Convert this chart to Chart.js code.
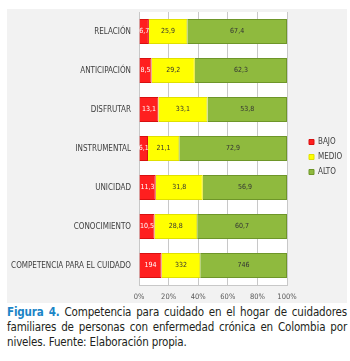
<!DOCTYPE html>
<html>
<head>
<meta charset="utf-8">
<script src="https://cdn.jsdelivr.net/npm/chart.js@4"></script>
<style>
    body { margin: 0; background: #fff; width: 350px; height: 361px; overflow: hidden; }
    #panel { position: absolute; left: 7px; top: 9px; width: 340px; height: 294px; background: #f2f2f2; }
    #panel canvas { display: block; }
    #caption {
        position: absolute; left: 7px; top: 305px; width: 340px;
        font-family: "DejaVu Sans Condensed", "Liberation Sans", sans-serif;
        font-size: 11.5px; letter-spacing: -0.15px; line-height: 15px; color: #231f20; text-align: justify;
    }
    #caption b { color: #1a84c6; }
</style>
</head>
<body>
<div id="panel"><canvas id="chart" width="340" height="294"></canvas></div>
<div id="caption"><b>Figura 4.</b> Competencia para cuidado en el hogar de cuidadores familiares de personas con enfermedad crónica en Colombia por niveles. Fuente: Elaboración propia.</div>
<script>
// Categorías y valores
const categories = ['RELACIÓN', 'ANTICIPACIÓN', 'DISFRUTAR', 'INSTRUMENTAL', 'UNICIDAD', 'CONOCIMIENTO', 'COMPETENCIA PARA EL CUIDADO'];
const bajo = [6.7, 8.5, 13.1, 6.1, 11.3, 10.5, 194];
const medio = [25.9, 29.2, 33.1, 21.1, 31.8, 28.8, 332];
const alto = [67.4, 62.3, 53.8, 72.9, 56.9, 60.7, 746];
const xTicks = [0, 20, 40, 60, 80, 100];

// Barras al 100%: cada serie como porcentaje del total de su categoría
const totals = categories.map((c, i) => bajo[i] + medio[i] + alto[i]);
const pct = arr => arr.map((v, i) => v / totals[i] * 100);

// Texto de las etiquetas con coma decimal
const fmt = v => String(v).replace('.', ',');

const labelFont = '"DejaVu Sans Condensed", "DejaVu Sans", sans-serif';

// Fondo blanco del área de trazado
const plotBg = {
    id: 'plotBg',
    beforeDraw(chart) {
        const a = chart.chartArea;
        const ctx = chart.ctx;
        ctx.save();
        ctx.fillStyle = '#ffffff';
        ctx.fillRect(a.left, a.top, a.right - a.left, a.bottom - a.top);
        ctx.restore();
    }
};

// Ancho fijo de la leyenda y desplazamiento a la derecha
const legendBox = {
    id: 'legendBox',
    beforeUpdate(chart) {
        const lg = chart.legend;
        if (lg && !lg._fixed) {
            const fit = lg.fit.bind(lg);
            lg.fit = function () { fit(); this.width = 60; };
            lg._fixed = true;
        }
    },
    afterLayout(chart) {
        if (chart.legend) chart.legend.left += 15;
    }
};

// Valores escritos sobre cada segmento
const barLabels = {
    id: 'barLabels',
    afterDatasetsDraw(chart) {
        const ctx = chart.ctx;
        ctx.save();
        ctx.font = '7px ' + labelFont;
        ctx.textAlign = 'center';
        ctx.textBaseline = 'middle';
        chart.data.datasets.forEach((ds, di) => {
            chart.getDatasetMeta(di).data.forEach((bar, i) => {
                const cx = (bar.x + bar.base) / 2;
                ctx.fillStyle = ds.labelColor;
                ctx.fillText(fmt(ds.raw[i]), cx, bar.y);
            });
        });
        ctx.restore();
    }
};

const ctx = document.getElementById('chart').getContext('2d');
new Chart(ctx, {
    type: 'bar',
    data: {
        labels: categories,
        datasets: [
            { label: 'BAJO', data: pct(bajo), raw: bajo, backgroundColor: '#ff1f1f', borderColor: '#d81010', borderWidth: 1, labelColor: '#ffffff' },
            { label: 'MEDIO', data: pct(medio), raw: medio, backgroundColor: '#ffff00', borderColor: '#e0e000', borderWidth: 1, labelColor: '#333333' },
            { label: 'ALTO', data: pct(alto), raw: alto, backgroundColor: '#8fba3e', borderColor: '#6e9629', borderWidth: 1, labelColor: '#333333' }
        ]
    },
    options: {
        indexAxis: 'y',
        responsive: false,
        animation: false,
        categoryPercentage: 1,
        barPercentage: 0.64,
        layout: { padding: { top: 3, right: 0, bottom: 1, left: 0 } },
        scales: {
            x: {
                stacked: true,
                min: 0,
                max: 100,
                afterBuildTicks: axis => { axis.ticks = xTicks.map(v => ({ value: v })); },
                afterFit: axis => { axis.height = 17; },
                ticks: {
                    callback: v => v + '%',
                    color: '#595959',
                    font: { size: 7.5, family: labelFont },
                    padding: 8
                },
                grid: { color: '#c8c8c8', drawTicks: false },
                border: { color: '#c8c8c8' }
            },
            y: {
                stacked: true,
                afterFit: axis => {
                    axis.width = 132;
                    axis.paddingTop = 0;
                    axis.paddingBottom = 0;
                },
                ticks: {
                    color: '#404040',
                    font: { size: 8, family: labelFont },
                    padding: 8
                },
                grid: { display: false, drawTicks: false },
                border: { display: false }
            }
        },
        plugins: {
            legend: {
                position: 'right',
                align: 'center',
                labels: {
                    boxWidth: 5,
                    boxHeight: 5,
                    padding: 7,
                    color: '#404040',
                    font: { size: 8, family: labelFont }
                }
            },
            tooltip: { enabled: false }
        }
    },
    plugins: [plotBg, legendBox, barLabels]
});
</script>
</body>
</html>
